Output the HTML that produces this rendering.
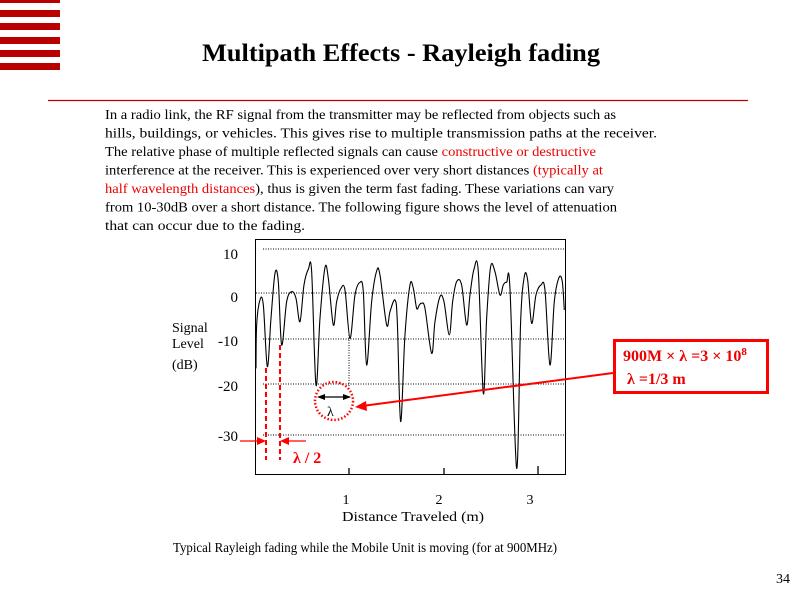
<!DOCTYPE html>
<html><head><meta charset="utf-8"><style>
html,body{margin:0;padding:0;background:#fff;width:800px;height:600px;overflow:hidden}
svg text{font-family:"Liberation Serif",serif}
</style></head><body>
<svg width="800" height="600" viewBox="0 0 800 600" xmlns="http://www.w3.org/2000/svg">
<g fill="#b80000">
<rect x="0" y="0" width="60" height="3"/><rect x="0" y="10" width="60" height="7"/><rect x="0" y="23" width="60" height="7"/><rect x="0" y="37" width="60" height="7"/><rect x="0" y="50" width="60" height="7"/><rect x="0" y="63" width="60" height="7"/>
</g>
<text x="202" y="61" font-size="25" font-weight="bold" textLength="398" lengthAdjust="spacingAndGlyphs">Multipath Effects - Rayleigh fading</text>
<line x1="48" y1="100.5" x2="748" y2="100.5" stroke="#c00000" stroke-width="1.2"/>
<g font-size="14">
<text x="105" y="119" textLength="511" lengthAdjust="spacingAndGlyphs">In a radio link, the RF signal from the transmitter may be reflected from objects such as</text>
<text x="105" y="137.5" textLength="552" lengthAdjust="spacingAndGlyphs">hills, buildings, or vehicles. This gives rise to multiple transmission paths at the receiver.</text>
<text x="105" y="156" textLength="491" lengthAdjust="spacingAndGlyphs">The relative phase of multiple reflected signals can cause <tspan fill="#e00">constructive or destructive</tspan></text>
<text x="105" y="174.5" textLength="498" lengthAdjust="spacingAndGlyphs">interference at the receiver. This is experienced over very short distances <tspan fill="#e00">(typically at</tspan></text>
<text x="105" y="193" textLength="509" lengthAdjust="spacingAndGlyphs"><tspan fill="#e00">half wavelength distances</tspan>), thus is given the term fast fading. These variations can vary</text>
<text x="105" y="211.5" textLength="512" lengthAdjust="spacingAndGlyphs">from 10-30dB over a short distance. The following figure shows the level of attenuation</text>
<text x="105" y="230" textLength="200" lengthAdjust="spacingAndGlyphs">that can occur due to the fading.</text>
</g>
<rect x="255.5" y="239.5" width="310" height="235" fill="none" stroke="#000" stroke-width="1"/>
<g stroke="#000" stroke-width="1" stroke-dasharray="1,1.5">
<line x1="263" y1="249" x2="565" y2="249"/>
<line x1="256" y1="293" x2="565" y2="293"/>
<line x1="263" y1="339" x2="565" y2="339"/>
<line x1="263" y1="384" x2="565" y2="384"/>
<line x1="263" y1="435" x2="565" y2="435"/>
<line x1="349" y1="335" x2="349" y2="386"/>
</g>
<g stroke="#000" stroke-width="1.3"><line x1="349" y1="474" x2="349" y2="468"/><line x1="444" y1="474" x2="444" y2="468"/><line x1="538" y1="474" x2="538" y2="466"/></g>
<g transform="translate(160,235) scale(0.3333)">
<path id="curve" fill="none" stroke="#000" stroke-width="3.3" d=""/>
</g>
<g font-size="15" text-anchor="end">
<text x="238" y="259">10</text><text x="238" y="302">0</text><text x="238" y="346">-10</text><text x="238" y="391">-20</text><text x="238" y="441">-30</text>
</g>
<g font-size="14"><text x="172" y="332">Signal</text><text x="172" y="348">Level</text><text x="172" y="369">(dB)</text></g>
<g font-size="14" text-anchor="middle"><text x="346" y="504">1</text><text x="439" y="504">2</text><text x="530" y="504">3</text>
<text x="413" y="521" textLength="142" lengthAdjust="spacingAndGlyphs">Distance Traveled (m)</text></g>
<text x="173" y="552" font-size="14" textLength="384" lengthAdjust="spacingAndGlyphs">Typical Rayleigh fading while the Mobile Unit is moving (for at 900MHz)</text>
<text x="776" y="583" font-size="14">34</text>
<g stroke="#f00" stroke-width="2" stroke-dasharray="5,3" fill="none">
<line x1="266" y1="368" x2="266" y2="460"/><line x1="280" y1="345" x2="280" y2="460"/>
</g>
<g stroke="#f00" stroke-width="1.3"><line x1="240" y1="441" x2="262" y2="441"/><line x1="284" y1="441" x2="306" y2="441"/></g>
<polygon points="266,441 257,437 257,445" fill="#f00"/><polygon points="280,441 289,437 289,445" fill="#f00"/>
<text x="293" y="463" font-size="16" font-weight="bold" fill="#f00">λ / 2</text>
<circle cx="334" cy="401" r="19" fill="none" stroke="#f00" stroke-width="2.5" stroke-dasharray="1.5,2"/>
<line x1="320" y1="397" x2="350" y2="397" stroke="#000" stroke-width="1.2"/>
<polygon points="317,397 325,394 325,400" fill="#000"/><polygon points="351,397 343,394 343,400" fill="#000"/>
<text x="327" y="416" font-size="14">λ</text>
<line x1="613" y1="373" x2="362" y2="406" stroke="#f00" stroke-width="2"/>
<polygon points="355,407 366,401 367,411" fill="#f00"/>
<rect x="614.5" y="340.5" width="153" height="52" fill="#fff" stroke="#f00" stroke-width="3"/>
<g font-size="16" font-weight="bold" fill="#e00">
<text x="623" y="361">900M × λ =3 × 10<tspan font-size="11" dy="-6">8</tspan></text>
<text x="627" y="384">λ =1/3 m</text>
</g>
</svg>
<script>
(function(){
var p=[288,400,290,270,300,195,310,210,322,395,333,250,345,115,355,140,365,330,380,200,395,170,408,190,420,260,432,150,445,103,455,110,468,450,480,250,495,98,505,130,520,270,530,200,543,160,555,165,570,310,585,180,600,142,610,170,620,390,635,200,650,108,660,120,680,270,690,230,705,195,712,260,722,560,735,300,750,150,760,160,770,220,778,210,785,205,795,220,815,355,825,260,840,185,852,200,868,300,878,200,890,140,905,150,920,270,930,180,942,103,955,110,970,475,980,250,992,95,1005,110,1020,180,1030,150,1040,142,1050,160,1070,700,1082,260,1093,125,1103,135,1115,265,1128,180,1143,150,1155,165,1170,390,1183,200,1197,128,1207,140,1213,225];
var pts=[];for(var i=0;i<p.length;i+=2)pts.push([p[i],p[i+1]]);
var d="M"+pts[0][0]+","+pts[0][1];
for(var i=0;i<pts.length-1;i++){var a=pts[i-1]||pts[i],b=pts[i],c=pts[i+1],e=pts[i+2]||c;
var c1x=b[0]+(c[0]-a[0])/6,c1y=b[1]+(c[1]-a[1])/6,c2x=c[0]-(e[0]-b[0])/6,c2y=c[1]-(e[1]-b[1])/6;
d+=" C"+c1x.toFixed(1)+","+c1y.toFixed(1)+" "+c2x.toFixed(1)+","+c2y.toFixed(1)+" "+c[0]+","+c[1];}
document.getElementById("curve").setAttribute("d",d);
})();
</script>
</body></html>
